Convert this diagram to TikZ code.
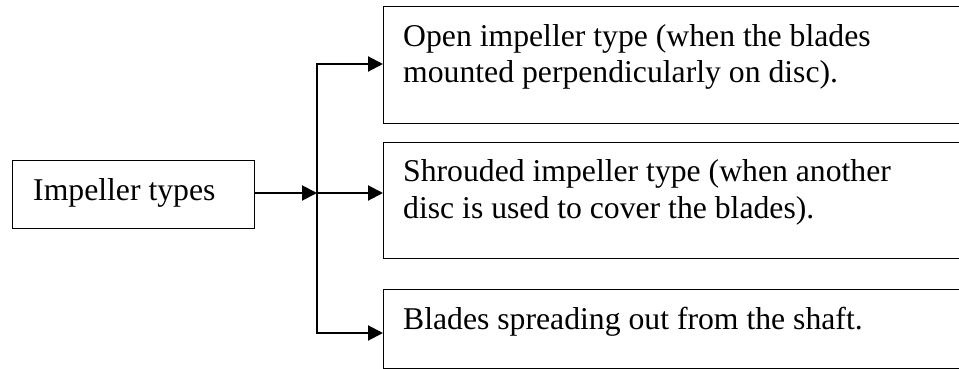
\documentclass[tikz,border=0pt]{standalone}
\usepackage{fontspec}
\setmainfont{Liberation Serif}
\usetikzlibrary{arrows.meta}
\begin{document}
\begin{tikzpicture}[x=1pt,y=-1pt,
  boxnode/.style={draw=black,line width=1.4pt,rectangle,inner sep=0pt,anchor=north west},
  txt/.style={anchor=base west,inner sep=0pt,align=left,font=\fontsize{31.7}{36.5}\selectfont},
  conn/.style={line width=2pt,-{Triangle[length=15pt,width=15pt]}},
  trunk/.style={line width=2pt,line cap=rect}]
\fill[white] (0,0) rectangle (959,369);
\useasboundingbox (0,0) rectangle (959,369);
\clip (0,0) rectangle (959,369);
% boxes
\node[boxnode,minimum width=242pt,minimum height=68pt] (src) at (12,160) {};
\node[boxnode,minimum width=600pt,minimum height=117pt] (b1) at (383,6) {};
\node[boxnode,minimum width=600pt,minimum height=116pt] (b2) at (383,142) {};
\node[boxnode,minimum width=600pt,minimum height=79pt] (b3) at (383,289) {};
% texts (multi-line: base anchor is the last line's baseline)
\node[txt] (tsrc) at (33,200) {Impeller types};
\node[txt] (t1) at (403,83) {Open impeller type (when the blades\\mounted perpendicularly on disc).};
\node[txt] (t2) at (403,218) {Shrouded impeller type (when another\\disc is used to cover the blades).};
\node[txt] (t3) at (403,329) {Blades spreading out from the shaft.};
% connectors
\coordinate (jt) at (317,64);
\coordinate (jm) at (317,193);
\coordinate (jb) at (317,333);
\draw[trunk] (jt) -- (jb);
\draw[conn] (src.east |- jm) -- (jm);
\draw[conn] (jm) -- (jm -| b2.west);
\draw[conn] (jt) -- (jt -| b1.west);
\draw[conn] (jb) -- (jb -| b3.west);
\end{tikzpicture}
\end{document}
